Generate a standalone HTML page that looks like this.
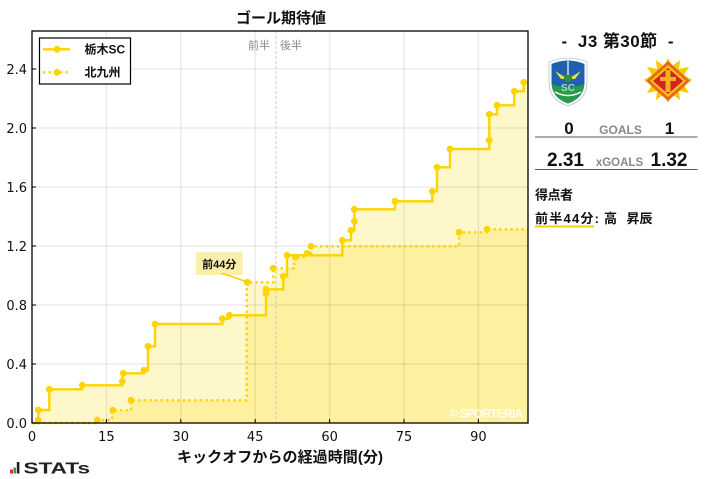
<!DOCTYPE html>
<html><head><meta charset="utf-8">
<style>
html,body{margin:0;padding:0;background:#fff;}
svg{display:block;}
.jp{font-family:"Liberation Sans","Noto Sans CJK JP",sans-serif;}
.tk{font-family:"DejaVu Sans","Liberation Sans",sans-serif;font-size:13px;fill:#111;}
</style></head>
<body>
<svg width="707" height="479" viewBox="0 0 707 479" xmlns="http://www.w3.org/2000/svg">
<rect x="0" y="0" width="707" height="479" fill="#fff"/>

<!-- title -->
<text x="281" y="23" text-anchor="middle" class="jp" font-size="15" font-weight="bold" fill="#111">ゴール期待値</text>

<!-- fills -->
<path d="M32,423 H38.3 V420 V410 H49.3 V389.3 H82.3 V385.3 H122.3 V381.3 V373.3 H144 V370.3 H148 V346.3 H155 V324 H222.3 V318.7 H229.3 V315.3 H266 V293.3 V289.3 H283.3 V276.3 H287 V255.3 H342.3 V240.3 H351 V230.3 H354.3 V221.3 V209.3 H395 V201.3 H432.3 V191.3 H437 V167.3 H450 V149 H489.3 V140.3 V114.3 H497 V105.3 H514.3 V91.3 H523.7 V82.3 H528 V423 Z" fill="rgb(250,215,0)" fill-opacity="0.21"/>
<path d="M32,423 H97.3 V420 H112 V410.3 H131 V400.3 H246.7 V282.3 H273.3 V268.3 H294 V257 H307 V253.3 H311 V246.3 H459 V232.3 H487 V229.3 H528 V423 Z" fill="rgb(250,215,0)" fill-opacity="0.21"/>

<!-- grid -->
<g stroke="#000" stroke-opacity="0.075" stroke-width="1.5">
<line x1="106.4" y1="31" x2="106.4" y2="423"/>
<line x1="180.8" y1="31" x2="180.8" y2="423"/>
<line x1="255.2" y1="31" x2="255.2" y2="423"/>
<line x1="329.6" y1="31" x2="329.6" y2="423"/>
<line x1="404" y1="31" x2="404" y2="423"/>
<line x1="478.4" y1="31" x2="478.4" y2="423"/>
<line x1="32" y1="364" x2="528" y2="364"/>
<line x1="32" y1="305" x2="528" y2="305"/>
<line x1="32" y1="246" x2="528" y2="246"/>
<line x1="32" y1="187" x2="528" y2="187"/>
<line x1="32" y1="128" x2="528" y2="128"/>
<line x1="32" y1="69" x2="528" y2="69"/>
</g>

<!-- half time line -->
<line x1="276" y1="31" x2="276" y2="423" stroke="#c8c8c8" stroke-width="1" stroke-dasharray="3,2"/>
<text x="259" y="49" text-anchor="middle" class="jp" font-size="11" fill="#8a8a8a">前半</text>
<text x="291" y="49" text-anchor="middle" class="jp" font-size="11" fill="#8a8a8a">後半</text>

<!-- annotation -->
<rect x="196" y="252.3" width="46.7" height="22.7" fill="#fbeeaa"/>
<text x="219.3" y="268" text-anchor="middle" class="jp" font-size="11" font-weight="bold" fill="#111">前44分</text>
<line x1="221.7" y1="273.3" x2="246.7" y2="281.7" stroke="#f7d200" stroke-width="1.6"/>

<!-- lines -->
<path d="M32,423 H38.3 V420 V410 H49.3 V389.3 H82.3 V385.3 H122.3 V381.3 V373.3 H144 V370.3 H148 V346.3 H155 V324 H222.3 V318.7 H229.3 V315.3 H266 V293.3 V289.3 H283.3 V276.3 H287 V255.3 H342.3 V240.3 H351 V230.3 H354.3 V221.3 V209.3 H395 V201.3 H432.3 V191.3 H437 V167.3 H450 V149 H489.3 V140.3 V114.3 H497 V105.3 H514.3 V91.3 H523.7 V82.3 H528" fill="none" stroke="#fcd400" stroke-width="2.4"/>
<path d="M32,423 H97.3 V420 H112 V410.3 H131 V400.3 H246.7 V282.3 H273.3 V268.3 H294 V257 H307 V253.3 H311 V246.3 H459 V232.3 H487 V229.3 H528" fill="none" stroke="#fcd400" stroke-width="2.4" stroke-dasharray="2.4,3.2"/>

<!-- markers -->
<g fill="#fcd400">
<circle cx="38.3" cy="420" r="3.4"/><circle cx="38.3" cy="410" r="3.4"/><circle cx="49.3" cy="389.3" r="3.4"/><circle cx="82.3" cy="385.3" r="3.4"/><circle cx="122.3" cy="381.3" r="3.4"/><circle cx="123.3" cy="373.3" r="3.4"/><circle cx="144" cy="370.3" r="3.4"/><circle cx="148" cy="346.3" r="3.4"/><circle cx="155" cy="324" r="3.4"/><circle cx="222.3" cy="318.7" r="3.4"/><circle cx="229.3" cy="315.3" r="3.4"/><circle cx="266" cy="293.3" r="3.4"/><circle cx="266" cy="289.3" r="3.4"/><circle cx="283.3" cy="276.3" r="3.4"/><circle cx="287" cy="255.3" r="3.4"/><circle cx="342.3" cy="240.3" r="3.4"/><circle cx="351" cy="230.3" r="3.4"/><circle cx="354.3" cy="221.3" r="3.4"/><circle cx="354.3" cy="209.3" r="3.4"/><circle cx="395" cy="201.3" r="3.4"/><circle cx="432.3" cy="191.3" r="3.4"/><circle cx="437" cy="167.3" r="3.4"/><circle cx="450" cy="149" r="3.4"/><circle cx="489.3" cy="140.3" r="3.4"/><circle cx="489.3" cy="114.3" r="3.4"/><circle cx="497" cy="105.3" r="3.4"/><circle cx="514.3" cy="91.3" r="3.4"/><circle cx="523.7" cy="82.3" r="3.4"/>
<circle cx="97.3" cy="420" r="3.4"/><circle cx="112.7" cy="410.3" r="3.4"/><circle cx="131" cy="400.3" r="3.4"/><circle cx="247.3" cy="282.3" r="3.4"/><circle cx="273.3" cy="268.3" r="3.4"/><circle cx="295.3" cy="257" r="3.4"/><circle cx="307" cy="253.3" r="3.4"/><circle cx="311" cy="246.3" r="3.4"/><circle cx="459" cy="232.3" r="3.4"/><circle cx="487" cy="229.3" r="3.4"/>
</g>

<!-- watermark -->
<text x="523" y="417.5" text-anchor="end" font-family="Liberation Sans, sans-serif" font-size="12" font-weight="bold" fill="#fff" fill-opacity="0.9" textLength="74">© SPORTERIA</text>

<!-- frame -->
<rect x="32" y="31" width="496" height="392" fill="none" stroke="#000" stroke-width="1.3"/>

<!-- ticks -->
<g stroke="#000" stroke-width="1">
<line x1="32" y1="423" x2="32" y2="419"/>
<line x1="106.4" y1="423" x2="106.4" y2="419"/>
<line x1="180.8" y1="423" x2="180.8" y2="419"/>
<line x1="255.2" y1="423" x2="255.2" y2="419"/>
<line x1="329.6" y1="423" x2="329.6" y2="419"/>
<line x1="404" y1="423" x2="404" y2="419"/>
<line x1="478.4" y1="423" x2="478.4" y2="419"/>
<line x1="32" y1="364" x2="36" y2="364"/>
<line x1="32" y1="305" x2="36" y2="305"/>
<line x1="32" y1="246" x2="36" y2="246"/>
<line x1="32" y1="187" x2="36" y2="187"/>
<line x1="32" y1="128" x2="36" y2="128"/>
<line x1="32" y1="69" x2="36" y2="69"/>
</g>

<!-- tick labels -->
<g class="tk" text-anchor="end">
<text x="27" y="428">0.0</text>
<text x="27" y="369">0.4</text>
<text x="27" y="310">0.8</text>
<text x="27" y="251">1.2</text>
<text x="27" y="192">1.6</text>
<text x="27" y="133">2.0</text>
<text x="27" y="74">2.4</text>
</g>
<g class="tk" text-anchor="middle">
<text x="32" y="441">0</text>
<text x="106.4" y="441">15</text>
<text x="180.8" y="441">30</text>
<text x="255.2" y="441">45</text>
<text x="329.6" y="441">60</text>
<text x="404" y="441">75</text>
<text x="478.4" y="441">90</text>
</g>

<!-- x label -->
<text x="280" y="462" text-anchor="middle" class="jp" font-size="15" font-weight="bold" fill="#111" textLength="206">キックオフからの経過時間(分)</text>

<!-- legend -->
<rect x="39.5" y="38" width="91" height="46" fill="#fff" stroke="#000" stroke-width="1.2"/>
<line x1="43" y1="49.3" x2="70" y2="49.3" stroke="#fcd400" stroke-width="2.4"/>
<circle cx="57" cy="49.3" r="3.4" fill="#fcd400"/>
<line x1="43" y1="72.3" x2="70" y2="72.3" stroke="#fcd400" stroke-width="2.4" stroke-dasharray="2.4,3.2"/>
<circle cx="57" cy="72.3" r="3.4" fill="#fcd400"/>
<text x="84.5" y="53.5" class="jp" font-size="12" font-weight="bold" fill="#111">栃木SC</text>
<text x="84.5" y="76.5" class="jp" font-size="12" font-weight="bold" fill="#111">北九州</text>

<!-- right panel -->
<text x="617.5" y="47" text-anchor="middle" class="jp" font-size="17" font-weight="bold" fill="#111" textLength="112" xml:space="preserve">-  J3 第30節  -</text>

<!-- Tochigi crest -->
<g>
<path d="M549,62 Q568,54 587,62 L587,82 Q587,100 568,106 Q549,100 549,82 Z" fill="#fff" stroke="#9ab" stroke-width="0.6"/>
<path d="M551.5,64 Q568,57 584.5,64 L584.5,82 Q584.5,98 568,103.5 Q551.5,98 551.5,82 Z" fill="#2060b0"/>
<path d="M551.5,84 Q568,90 584.5,84 Q583,98 568,103.5 Q553,98 551.5,84 Z" fill="#2a9a4a"/>
<path d="M555,92 Q568,99 581,92" fill="none" stroke="#fff" stroke-width="1.5"/>
<path d="M555,71 L568,79 L581,71 L575,79 L561,79 Z" fill="#e8e040"/>
<circle cx="568" cy="78" r="4" fill="#3a8a3a"/>
<text x="568" y="91" text-anchor="middle" font-family="Liberation Sans, sans-serif" font-size="10" font-weight="bold" fill="#9fe0b0">SC</text>
<line x1="568" y1="61" x2="568" y2="75" stroke="#fff" stroke-width="1.2"/>
</g>

<!-- Kitakyushu crest -->
<g>
<polygon points="668,58 672,66 680,60 679,69 689,67 684,75 692,80 684,85 689,93 679,91 680,100 672,94 668,103 664,94 656,100 657,91 647,93 652,85 644,80 652,75 647,67 657,69 656,60 664,66" fill="#f7c800"/>
<polygon points="668,61 690,81 668,101 646,81" fill="#e86a10"/>
<polygon points="668,65 686,81 668,97 650,81" fill="#f4c020"/>
<polygon points="668,68 683,81 668,94 653,81" fill="#d82020"/>
<rect x="665.5" y="70" width="5" height="22" fill="#f0b020"/>
<rect x="660" y="77" width="16" height="4" fill="#f0b020"/>
</g>

<text x="569" y="134" text-anchor="middle" class="jp" font-size="17" font-weight="bold" fill="#111">0</text>
<text x="620.5" y="134" text-anchor="middle" class="jp" font-size="12" font-weight="bold" fill="#888">GOALS</text>
<text x="669.5" y="134" text-anchor="middle" class="jp" font-size="17" font-weight="bold" fill="#111">1</text>
<line x1="535" y1="137" x2="697.5" y2="137" stroke="#555" stroke-width="1"/>

<text x="565.5" y="166" text-anchor="middle" class="jp" font-size="19" font-weight="bold" fill="#111">2.31</text>
<text x="619.5" y="166" text-anchor="middle" class="jp" font-size="11.5" font-weight="bold" fill="#888">xGOALS</text>
<text x="669" y="166" text-anchor="middle" class="jp" font-size="19" font-weight="bold" fill="#111">1.32</text>
<line x1="535" y1="169.5" x2="697.5" y2="169.5" stroke="#555" stroke-width="1"/>

<text x="535" y="199.5" class="jp" font-size="13" font-weight="bold" fill="#111" textLength="38">得点者</text>
<text x="535" y="223" class="jp" font-size="13" font-weight="bold" fill="#111" textLength="64">前半44分:</text>
<text x="604" y="223" class="jp" font-size="13" font-weight="bold" fill="#111">高</text>
<text x="626.5" y="223" class="jp" font-size="13" font-weight="bold" fill="#111">昇辰</text>
<line x1="535" y1="226.5" x2="594" y2="226.5" stroke="#f5d000" stroke-width="2"/>

<!-- STATs logo -->
<rect x="10" y="469.5" width="3" height="4" fill="#e03030"/>
<rect x="13.5" y="467.5" width="2.5" height="6" fill="#30a040"/>
<rect x="16.8" y="462" width="2.6" height="11.5" fill="#222"/>
<text x="23.5" y="473.5" font-family="Liberation Sans, sans-serif" font-size="16" font-weight="bold" fill="#222" textLength="66.5" lengthAdjust="spacingAndGlyphs">STATs</text>
</svg>
</body></html>
